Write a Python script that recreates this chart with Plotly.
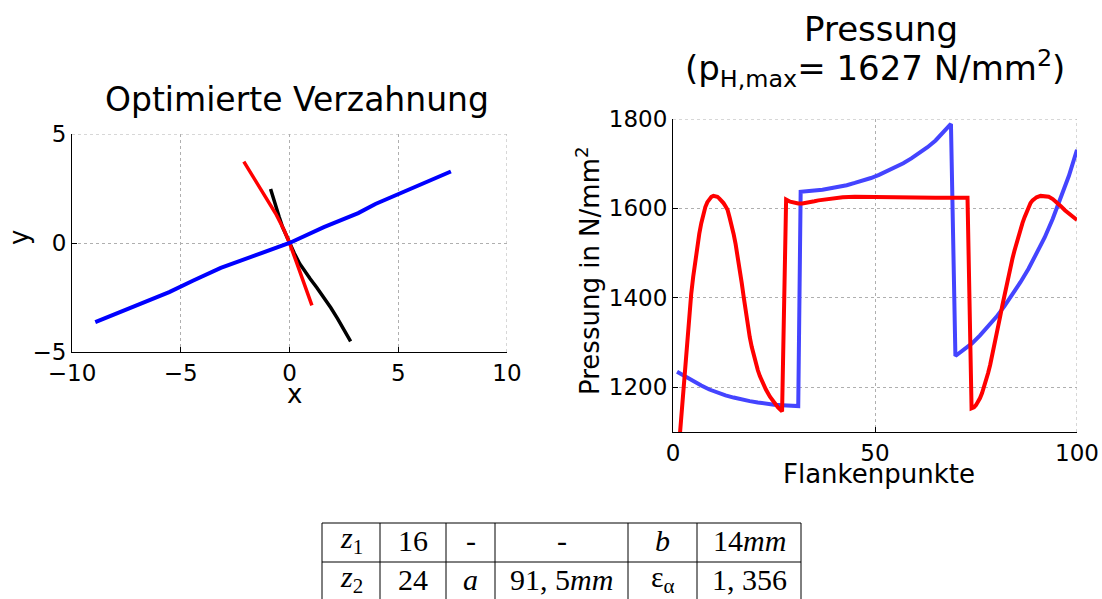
import plotly.graph_objects as go

# ---------------- data ----------------
# left plot: "Optimierte Verzahnung"
left_black_x = [-0.87, -0.75, -0.63, -0.47, -0.32, -0.16, 0.0, 0.22, 0.47, 0.70, 0.95, 1.26, 1.58, 1.90,
                2.21, 2.51, 2.81]
left_black_y = [2.48, 2.05, 1.64, 1.18, 0.73, 0.35, 0.0, -0.47, -0.95, -1.30, -1.64, -2.05, -2.48, -2.97,
                -3.47, -3.98, -4.51]
left_red_x = [-2.10, -1.66, -1.11, -0.63, -0.24, 0.0, 0.32, 0.63, 0.87, 1.03]
left_red_y = [3.73, 3.02, 2.10, 1.34, 0.57, 0.0, -0.88, -1.72, -2.40, -2.86]
left_blue_x = [-8.93, -7.74, -6.48, -5.53, -4.42, -3.16, -1.58, 0.0, 1.58, 3.16, 3.95, 5.06, 6.32, 7.42]
left_blue_y = [-3.63, -3.16, -2.66, -2.25, -1.72, -1.14, -0.57, 0.0, 0.73, 1.37, 1.79, 2.28, 2.79, 3.28]

# right plot: "Pressung"
right_blue_x = [1, 3, 5, 7, 9, 11, 13, 15, 17, 19, 21, 23, 25, 27, 29, 31,
                31.6, 33, 35, 37, 39, 41, 43, 45, 47, 49, 51, 53, 55, 57, 59, 61, 63, 65, 67, 68.8,
                69.9, 72, 74, 76, 78, 80, 82, 84, 86, 88, 90, 92, 94, 96, 98, 100]
right_blue_y = [1235, 1224, 1213, 1204, 1195, 1188, 1182, 1177, 1172, 1169, 1166, 1163, 1161, 1160, 1159, 1158,
                1637, 1639, 1640, 1642, 1645, 1648, 1652, 1657, 1662, 1668, 1675, 1683, 1692, 1701, 1712,
                1724, 1737, 1752, 1770, 1789,
                1270, 1283, 1298, 1316, 1335, 1357, 1381, 1407, 1435, 1465, 1498, 1535, 1577, 1622, 1673, 1731]
right_red_x = [1, 1.5, 2, 2.5, 3, 3.5, 4, 4.5, 5, 5.5, 6, 6.5, 7, 7.5, 8, 8.5, 9, 9.5, 10, 10.5, 11, 11.5,
               12, 12.5, 13, 13.5, 14, 14.5, 15, 15.5, 16, 16.5, 17, 17.5, 18, 18.5, 19, 19.5, 20, 20.5,
               21, 21.5, 22, 23, 24, 25, 26, 27,
               28, 29, 30, 31, 32, 33, 34, 35, 36, 38, 40, 42, 45, 50, 55, 60, 65, 70, 72.9,
               73.9, 74.5, 75, 75.5, 76, 76.5, 77, 77.5, 78, 78.5, 79, 79.5, 80, 80.5, 81, 81.5, 82, 82.5,
               83, 83.5, 84, 84.5, 85, 85.5, 86, 86.5, 87, 87.5, 88, 88.5, 89, 89.5, 90, 91, 92, 93, 94,
               95, 96, 97, 98, 99, 100]
right_red_y = [1015, 1075, 1135, 1194, 1253, 1315, 1365, 1408, 1447, 1482, 1515, 1543, 1567, 1587, 1603, 1614,
               1622, 1626, 1628, 1628, 1626, 1622, 1618, 1612, 1605, 1597, 1580, 1563, 1543, 1520, 1494,
               1465, 1434, 1402, 1370, 1340, 1312, 1290, 1270, 1253, 1238, 1225, 1214, 1195, 1179, 1166,
               1155, 1146,
               1620, 1615, 1612, 1611, 1611, 1612, 1614, 1616, 1618, 1621, 1623, 1625, 1626, 1625, 1624,
               1624, 1624, 1624, 1624,
               1153, 1155, 1160, 1167, 1176, 1187, 1200, 1215, 1232, 1250, 1270, 1291, 1313, 1336, 1359,
               1382, 1405, 1427, 1448, 1468, 1487, 1505, 1522, 1538, 1553, 1567, 1580, 1592, 1604, 1612,
               1618, 1622, 1625, 1628, 1628, 1626, 1621, 1614, 1605, 1596, 1588, 1581, 1574]

# table
table_row1 = ["<i>z</i><sub>1</sub>", "16", "-", "-", "<i>b</i>", "14<i>mm</i>"]
table_row2 = ["<i>z</i><sub>2</sub>", "24", "<i>a</i>", "91, 5<i>mm</i>", "ε<sub>α</sub>", "1, 356"]

# ---------------- figure ----------------
W, H = 1102, 599


def px(x):
    return x / W


def py(y):
    return 1 - y / H


SANS = "DejaVu Sans"
SERIF = "Liberation Serif"
GRID = "rgb(175,175,175)"

fig = go.Figure()
fig.add_trace(go.Scatter(x=left_black_x, y=left_black_y, mode="lines",
                         line=dict(color="black", width=3.5), xaxis="x", yaxis="y"))
fig.add_trace(go.Scatter(x=left_red_x, y=left_red_y, mode="lines",
                         line=dict(color="#ff0000", width=3.5), xaxis="x", yaxis="y"))
fig.add_trace(go.Scatter(x=left_blue_x, y=left_blue_y, mode="lines",
                         line=dict(color="#0000ff", width=4), xaxis="x", yaxis="y"))
fig.add_trace(go.Scatter(x=right_blue_x, y=right_blue_y, mode="lines",
                         line=dict(color="#4444ff", width=4), xaxis="x2", yaxis="y2"))
fig.add_trace(go.Scatter(x=right_red_x, y=right_red_y, mode="lines",
                         line=dict(color="#ff0000", width=4), xaxis="x2", yaxis="y2"))

axis_common = dict(showline=True, linecolor="black", linewidth=1, mirror=False,
                   ticks="inside", ticklen=5, tickcolor="black", tickwidth=1,
                   showgrid=True, gridcolor=GRID, griddash="dot", gridwidth=1,
                   zeroline=False, automargin=False,
                   tickfont=dict(family=SANS, size=23, color="black"))

left_xrange, left_yrange = [-10, 10], [-5, 5]
right_xrange, right_yrange = [0, 100], [1100, 1800]

fig.update_layout(
    width=W, height=H,
    margin=dict(l=0, r=0, t=0, b=0, pad=0, autoexpand=False),
    paper_bgcolor="white", plot_bgcolor="white",
    showlegend=False,
    xaxis=dict(domain=[px(72), px(507)], range=left_xrange, tick0=0, dtick=5, anchor="y", **axis_common),
    yaxis=dict(domain=[py(352), py(134)], range=left_yrange, tick0=0, dtick=5, anchor="x", **axis_common),
    xaxis2=dict(domain=[px(673), px(1077)], range=right_xrange, tick0=0, dtick=50, anchor="y2",
                **axis_common),
    yaxis2=dict(domain=[py(432), py(119)], range=right_yrange, tick0=1200, dtick=200, anchor="x2",
                **axis_common),
)

ann = []


def text(x, y, s, size, family=SANS, angle=0):
    ann.append(dict(x=px(x), y=py(y), xref="paper", yref="paper", text=s, showarrow=False,
                    xanchor="center", yanchor="middle", textangle=angle,
                    font=dict(family=family, size=size, color="black")))


text(297, 99, "Optimierte Verzahnung", 33)
text(294, 394, "x", 26)
text(19, 238, "y", 26, angle=-90)
text(881, 29, "Pressung", 34)
text(875, 68, "(p<sub>H,max</sub>= 1627 N/mm<sup>2</sup>)", 34)
text(879, 474, "Flankenpunkte", 26)
text(588, 271, "Pressung in N/mm<sup>2</sup>", 26, angle=-90)

# table
col_edges = [322, 380, 446, 495, 628, 697, 801]
row_edges = [523, 562, 601]
for i in range(len(table_row1)):
    cx = (col_edges[i] + col_edges[i + 1]) / 2
    text(cx, 540, table_row1[i], 30, family=SERIF)
    text(cx, 579, table_row2[i], 30, family=SERIF)

shapes = []
for yy in row_edges:
    shapes.append(dict(type="line", xref="paper", yref="paper", x0=px(col_edges[0]), x1=px(col_edges[-1]),
                       y0=py(yy), y1=py(yy), line=dict(color="black", width=1)))
for xx in col_edges:
    shapes.append(dict(type="line", xref="paper", yref="paper", x0=px(xx), x1=px(xx),
                       y0=py(row_edges[0]), y1=py(row_edges[-1]), line=dict(color="black", width=1)))

# dotted grid lines at the upper / right limits (MATLAB "grid on" with box off)
for xr, yr, xa, ya in [(left_xrange, left_yrange, "x", "y"), (right_xrange, right_yrange, "x2", "y2")]:
    shapes.append(dict(type="line", xref=xa, yref=ya, x0=xr[0], x1=xr[1], y0=yr[1], y1=yr[1],
                       layer="below", line=dict(color=GRID, width=1, dash="dot")))
    shapes.append(dict(type="line", xref=xa, yref=ya, x0=xr[1], x1=xr[1], y0=yr[0], y1=yr[1],
                       layer="below", line=dict(color=GRID, width=1, dash="dot")))

fig.update_layout(annotations=ann, shapes=shapes)
fig.write_html("out.html")
